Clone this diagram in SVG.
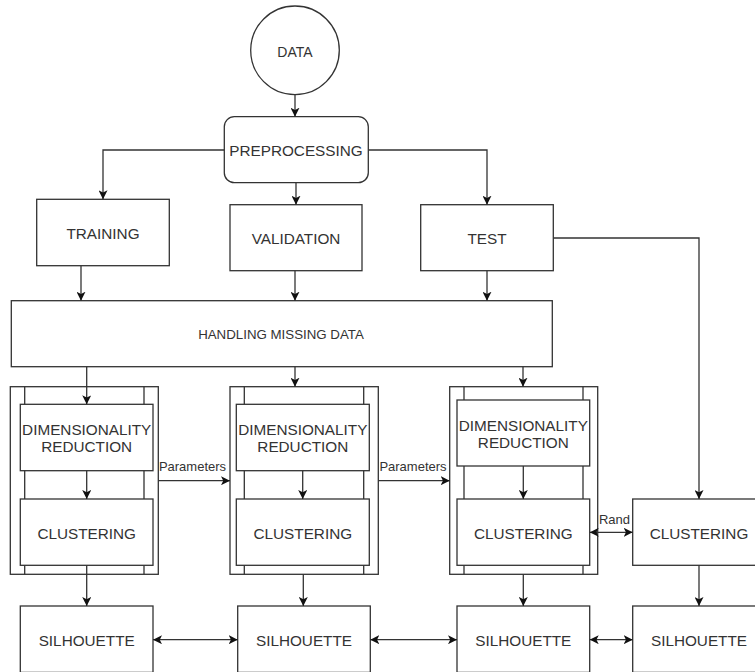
<svg xmlns="http://www.w3.org/2000/svg" width="755" height="672" viewBox="0 0 755 672">
<style>
.b{fill:#fff;stroke:#333;stroke-width:1.3}
.c{fill:none;stroke:#333;stroke-width:1.3}
.t{font-family:"Liberation Sans",Arial,sans-serif;font-size:15.3px;fill:#333;text-anchor:middle;dominant-baseline:central}
.s{font-family:"Liberation Sans",Arial,sans-serif;font-size:13px;fill:#333;text-anchor:middle}
</style>
<defs>
<marker id="a" viewBox="0 0 10 10" refX="10" refY="5" markerWidth="9" markerHeight="9" markerUnits="userSpaceOnUse" orient="auto-start-reverse">
<path d="M0,0 L10,5 L0,10 L2.5,5 z" fill="#111"/>
</marker>
</defs>
<rect width="755" height="672" fill="#fff"/>
<g id="data"><circle class="b" cx="295" cy="50.3" r="44.3"/><text class="t" x="295" y="51.5" style="font-size:14px">DATA</text></g>
<g id="preprocessing"><rect class="b" x="224.3" y="116.7" width="144" height="66" rx="10"/><text class="t" x="296" y="150.5">PREPROCESSING</text></g>
<g id="training"><rect class="b" x="36.7" y="199.3" width="132.6" height="66.4"/><text class="t" x="103" y="233">TRAINING</text></g>
<g id="validation"><rect class="b" x="230" y="204.7" width="132" height="66"/><text class="t" x="296" y="238.5">VALIDATION</text></g>
<g id="test"><rect class="b" x="420.7" y="204.7" width="132.6" height="66"/><text class="t" x="487" y="238.5">TEST</text></g>
<g id="hmd"><rect class="b" x="11.3" y="300.7" width="541" height="66"/><text class="t" x="281" y="334" style="font-size:13.3px">HANDLING MISSING DATA</text></g>
<g id="container1"><rect class="b" x="10.3" y="386.7" width="148" height="187.6"/><path class="c" d="M24.7,386.7 V574.3 M144,386.7 V574.3"/></g>
<g id="container2"><rect class="b" x="230" y="386.7" width="148.3" height="187.6"/><path class="c" d="M244.3,386.7 V574.3 M363.7,386.7 V574.3"/></g>
<g id="container3"><rect class="b" x="449.7" y="386.7" width="148" height="187.6"/><path class="c" d="M464,386.7 V574.3 M583,386.7 V574.3"/></g>
<g id="dr1"><rect class="b" x="20.3" y="404.3" width="132.7" height="66.4"/><text class="t" x="86.7" y="429.5">DIMENSIONALITY</text><text class="t" x="86.7" y="446.8">REDUCTION</text></g>
<g id="dr2"><rect class="b" x="236.3" y="404.3" width="133" height="66.4"/><text class="t" x="302.8" y="429.5">DIMENSIONALITY</text><text class="t" x="302.8" y="446.8">REDUCTION</text></g>
<g id="dr3"><rect class="b" x="457" y="400" width="132.7" height="66"/><text class="t" x="523.3" y="425">DIMENSIONALITY</text><text class="t" x="523.3" y="442.3">REDUCTION</text></g>
<g id="cl1"><rect class="b" x="20.3" y="499" width="132.7" height="66.3"/><text class="t" x="86.7" y="533">CLUSTERING</text></g>
<g id="cl2"><rect class="b" x="236.3" y="499" width="133" height="66.3"/><text class="t" x="302.8" y="533">CLUSTERING</text></g>
<g id="cl3"><rect class="b" x="457" y="499" width="132.7" height="66.3"/><text class="t" x="523.3" y="533">CLUSTERING</text></g>
<g id="cl4"><rect class="b" x="632.7" y="499" width="132.6" height="66.3"/><text class="t" x="699" y="533">CLUSTERING</text></g>
<g id="sil1"><rect class="b" x="20.3" y="606" width="132.7" height="66.4"/><text class="t" x="86.7" y="640">SILHOUETTE</text></g>
<g id="sil2"><rect class="b" x="237.7" y="606" width="132.6" height="66.4"/><text class="t" x="304" y="640">SILHOUETTE</text></g>
<g id="sil3"><rect class="b" x="457" y="606" width="132.7" height="66.4"/><text class="t" x="523.3" y="640">SILHOUETTE</text></g>
<g id="sil4"><rect class="b" x="632.7" y="606" width="132.6" height="66.4"/><text class="t" x="699" y="640">SILHOUETTE</text></g>
<g id="connectors" class="c">
<path d="M295,94.7 V116.7" marker-end="url(#a)"/>
<path d="M224.3,150 H103 V199.3" marker-end="url(#a)"/>
<path d="M296,182.7 V204.7" marker-end="url(#a)"/>
<path d="M368.3,150 H487 V204.7" marker-end="url(#a)"/>
<path d="M553.3,238 H699 V499" marker-end="url(#a)"/>
<path d="M81,265.7 V300.7" marker-end="url(#a)"/>
<path d="M295,270.7 V300.7" marker-end="url(#a)"/>
<path d="M487,270.7 V300.7" marker-end="url(#a)"/>
<path d="M86.7,366.7 V404.3" marker-end="url(#a)"/>
<path d="M295,366.7 V386.7" marker-end="url(#a)"/>
<path d="M523,366.7 V386.7" marker-end="url(#a)"/>
<path d="M86.7,470.7 V499" marker-end="url(#a)"/>
<path d="M302.7,470.7 V499" marker-end="url(#a)"/>
<path d="M523.3,466 V499" marker-end="url(#a)"/>
<path d="M86.7,565.3 V606" marker-end="url(#a)"/>
<path d="M303.3,574.3 V606" marker-end="url(#a)"/>
<path d="M523.3,574.3 V606" marker-end="url(#a)"/>
<path d="M699,565.3 V606" marker-end="url(#a)"/>
<path d="M158.3,480.7 H230" marker-end="url(#a)"/>
<path d="M378.3,480.7 H449.7" marker-end="url(#a)"/>
<path d="M589.7,532.3 H632.7" marker-start="url(#a)" marker-end="url(#a)"/>
<path d="M153,639.7 H237.7" marker-start="url(#a)" marker-end="url(#a)"/>
<path d="M370.3,639.7 H457" marker-start="url(#a)" marker-end="url(#a)"/>
<path d="M589.7,639.7 H632.7" marker-start="url(#a)" marker-end="url(#a)"/>
</g>
<g id="labels">
<text class="s" x="192.5" y="471">Parameters</text>
<text class="s" x="413" y="471">Parameters</text>
<text class="s" x="614.5" y="524">Rand</text>
</g>
</svg>
